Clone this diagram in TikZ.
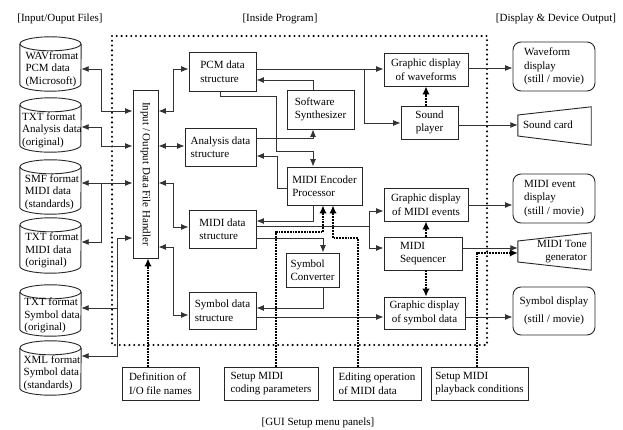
\documentclass[tikz,border=0pt]{standalone}
\usepackage{fontspec}
\setmainfont{Liberation Serif}
\usetikzlibrary{arrows.meta,calc}

% storage drum: name, top, bottom, label
\newcommand\mydrum[4]{%
  \node[inner sep=0pt, minimum width=61pt, minimum height={(#3-#2)*1pt}] (#1) at (50.5,{(#2+#3)/2}) {};
  \draw[shp] ($(#1.north west)+(0,7)$) -- ($(#1.south west)+(0,-7)$)
     arc[start angle=180, end angle=360, x radius=30.5pt, y radius=7pt]
     -- ($(#1.north east)+(0,7)$);
  \draw[shp] ($(#1.north)+(0,7)$) ellipse[x radius=30.5pt, y radius=7pt];
  \node[align=left, inner sep=0pt, font=\fontsize{11}{12.5}\selectfont] (#1t) at ($(#1.center)+(1.5,5)$) {#4};
}

\begin{document}
\begin{tikzpicture}[x=1pt, y=-1pt,
  font=\fontsize{11}{13.5}\selectfont,
  shp/.style={draw=black!85, line width=0.9pt},
  box/.style={shp, inner sep=0pt, align=left},
  outbox/.style={box, rounded corners=8pt},
  sz/.style 2 args={minimum width=#1pt, minimum height=#2pt},
  ln/.style={draw=black!80, line width=0.9pt},
  ar/.style={ln, -{Latex[length=7.5pt,width=6pt]}},
  bi/.style={ln, {Latex[length=7.5pt,width=6pt]}-{Latex[length=7.5pt,width=6pt]}},
  gui/.style={draw=black, line width=1.7pt, dash pattern=on 1.7pt off 1.1pt,
              -{Latex[length=8pt,width=7.5pt]}},
  frame/.style={draw=black, line width=2.3pt, line cap=round, dash pattern=on 0pt off 4.8pt}
]
\useasboundingbox (0,0) rectangle (623,430);

% section headings
\node (hfiles) at (60,19) {[Input/Ouput Files]};
\node (hprog) at (280,19) {[Inside Program]};
\node (hout) at (556,19) {[Display \& Device Output]};
\node (hgui) at (318,423) {[GUI Setup menu panels]};

% program boundary
\draw[frame] (112,36) rectangle (487,345);

% files
\mydrum{c1}{37}{91}{WAVfromat\\PCM data\\(Microsoft)}
\mydrum{c2}{98}{152}{TXT format\\Analysis data\\(original)}
\mydrum{c3}{160}{214}{SMF format\\MIDI data\\(standards)}
\mydrum{c4}{218}{273}{TXT format\\MIDI data\\(original)}
\mydrum{c5}{285}{336}{TXT format\\Symbol data\\(original)}
\mydrum{c6}{341}{395}{XML format\\Symbol data\\(standards)}

% file handler
\node[box, sz={25}{168}] (handler) at (145.5,174) {};
\node[rotate=-90, inner sep=0pt] (handlertext) at (handler.center) {Input / Output Data File Handler};

% data structures and processors
\node[box, sz={67}{39}] (pcm) at (222.5,71.5) {PCM data\\structure};
\node[box, sz={71}{38}] (analysis) at (220.5,147) {Analysis data\\structure};
\node[box, sz={67}{38}] (mididata) at (222.5,229) {MIDI data\\structure};
\node[box, sz={67}{37}] (symdata) at (222.5,310.5) {Symbol data\\structure};
\node[box, sz={67}{39}] (synth) at (320.5,109.5) {Software\\Synthesizer};
\node[box, sz={75}{38}] (encoder) at (324.5,186) {MIDI Encoder\\Processor};
\node[box, sz={53}{34}] (converter) at (312.5,270) {Symbol\\Converter};

\node[box, align=center, sz={84}{33}] (gwave) at (426,69.5) {Graphic display\\of waveforms};
\node[box, align=center, sz={57}{33}] (player) at (429.5,122.5) {Sound\\player};
\node[box, align=center, sz={84}{33}] (gmidi) at (426,204.5) {Graphic display\\of MIDI events};
\node[box, sz={78}{33}] (seq) at (423,253.5) {MIDI\\Sequencer};
\node[box, align=center, sz={81}{32}] (gsym) at (424.5,313) {Graphic display\\of symbol data};

% outputs
\node[outbox, sz={82}{49}] (wdisp) at (554,66.5) {Waveform\\display\\(still / movie)};
\node[outbox, sz={82}{49}] (mdisp) at (554,198.5) {MIDI event\\display\\(still / movie)};
\node[outbox, align=center, sz={82}{48}, font=\fontsize{11}{18}\selectfont] (sdisp) at (554,311) {Symbol display\\(still / movie)};

\node[inner sep=0pt, sz={73}{38}] (soundcard) at (554.5,126) {};
\draw[shp] (soundcard.north east) -- (soundcard.south east)
  -- ($(soundcard.west)+(0,10)$) -- ($(soundcard.west)+(0,-11)$) -- cycle;
\node[inner sep=0pt] (soundcardtext) at (548,125) {Sound card};

\node[inner sep=0pt, sz={73}{37}] (tonegen) at (554.5,251.5) {};
\draw[shp] (tonegen.north east) -- (tonegen.south east)
  -- ($(tonegen.west)+(0,10.5)$) -- ($(tonegen.west)+(0,-10.5)$) -- cycle;
\node[inner sep=0pt, align=right] (tonegentext) at (562,251.5) {MIDI Tone\\generator};

% GUI panels
\node[box, sz={77}{33}] (defio) at (160.5,383.5) {Definition of\\I/O file names};
\node[box, sz={94}{33}] (coding) at (271,383.5) {Setup MIDI\\coding parameters};
\node[box, sz={88}{33}] (editing) at (377,383.5) {Editing operation\\of MIDI data};
\node[box, sz={97}{33}] (playback) at (479.5,383.5) {Setup MIDI\\playback conditions};

% files <-> handler
\draw[bi] (c1.east |- 0,69) -| (101,111) -- (handler.west |- 0,111);
\draw[bi] (c2.east |- 0,127) -| (101,146) -- (handler.west |- 0,146);
\draw[bi] (c3.east |- 0,183) -- (handler.west |- 0,183);
\draw[ar] (101,183) |- (c4.east |- 0,242);
\draw[bi] (c6.east |- 0,356) -| (117,238) -- (handler.west |- 0,238);
\draw[ar] (117,308) -- (c5.east |- 0,308);

% handler <-> data structures
\draw[bi] (handler.east |- 0,111) -| (173,69) -- (pcm.west |- 0,69);
\draw[bi] (handler.east |- 0,146) -- (analysis.west |- 0,146);
\draw[bi] (handler.east |- 0,183) -| (173,227) -- (mididata.west |- 0,227);
\draw[bi] (handler.east |- 0,247) -| (173,315) -- (symdata.west |- 0,315);

% internal processing
\draw[ar] (pcm.south -| 220,0) |- (276,96) |- (313,151) -- (encoder.north -| 313,0);
\draw[ar] (synth.north -| 313,0) |- (pcm.east |- 0,80);
\draw[ar] (analysis.east |- 0,138) -| (synth.south -| 313,0);
\draw[ar] (encoder.west |- 0,188) -| (277,156) -- (analysis.east |- 0,156);
\draw[ar] (encoder.south -| 313,0) |- (mididata.east |- 0,221);
\draw[ar] (mididata.east |- 0,226) -| (369,211) -- (gmidi.west |- 0,211);
\draw[ar] (369,226) |- (seq.west |- 0,248);
\draw[ar] (mididata.east |- 0,238) -| (converter.north -| 323,0);
\draw[ar] (converter.south -| 323,0) |- (symdata.east |- 0,308);
\draw[ar] (symdata.east |- 0,317) -- (gsym.west |- 0,317);
\draw[ar] (pcm.east |- 0,69) -- (gwave.west |- 0,69);
\draw[ar] (364,69) |- (player.west |- 0,123);

% to displays and devices
\draw[ar] (gwave.east |- 0,68) -- (wdisp.west |- 0,68);
\draw[ar] (player.east |- 0,125) -- (soundcard.west |- 0,125);
\draw[ar] (gmidi.east |- 0,205) -- (mdisp.west |- 0,205);
\draw[ar] (seq.east |- 0,248) -- (tonegen.west |- 0,248);
\draw[ar] (gsym.east |- 0,317) -- (sdisp.west |- 0,317);

% control flows
\draw[gui] (defio.north -| 148,0) -- (handler.south -| 148,0);
\draw[gui] (coding.north -| 276,0) |- (323,232) -- (encoder.south -| 323,0);
\draw[gui] (editing.north -| 358,0) |- (333,238) -- (encoder.south -| 333,0);
\draw[gui] (playback.north -| 477,0) |- (tonegen.west |- 0,253);
\draw[gui] (player.north -| 426,0) -- (gwave.south -| 426,0);
\draw[gui] (seq.north -| 426,0) -- (gmidi.south -| 426,0);
\draw[gui] (seq.south -| 426,0) -- (gsym.north -| 426,0);
\end{tikzpicture}
\end{document}
